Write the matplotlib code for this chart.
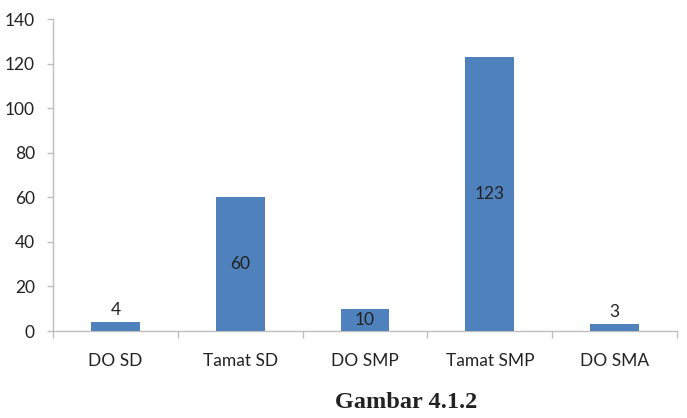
import matplotlib
matplotlib.use("Agg")
import matplotlib.pyplot as plt
import numpy as np

categories = ["DO SD", "Tamat SD", "DO SMP", "Tamat SMP", "DO SMA"]
values = [4, 60, 10, 123, 3]
yticks = [0, 20, 40, 60, 80, 100, 120, 140]
title = "Gambar 4.1.2"

plt.rcParams['font.family'] = ['Lato', 'DejaVu Sans']

fig = plt.figure(figsize=(6.87, 4.18), dpi=100)
ax = fig.add_axes([53/687, 1-331/418, (677-53)/687, (331-19)/418])

x = np.arange(len(categories))
bars = ax.bar(x, values, width=0.39, color='#4F81BD', zorder=3)

ax.set_xlim(-0.5, len(categories) - 0.5)
ax.set_ylim(0, 140)
ax.set_yticks(yticks)
ax.set_yticklabels([str(t) for t in yticks], fontsize=12.5, color='#222222')
ax.tick_params(axis='y', length=4, width=1, color='#BFBFBF', pad=9)

ax.set_xticks(np.arange(len(categories) + 1) - 0.5)
ax.set_xticklabels([])
ax.tick_params(axis='x', which='major', length=5, width=1, color='#BFBFBF', direction='out')
ax.set_xticks(x, minor=True)
ax.set_xticklabels(categories, minor=True, fontsize=12.5, color='#222222')
ax.tick_params(axis='x', which='minor', length=0, pad=16)

for s in ['top', 'right']:
    ax.spines[s].set_visible(False)
for s in ['left', 'bottom']:
    ax.spines[s].set_color('#BFBFBF')
    ax.spines[s].set_linewidth(1)

for xi, v in zip(x, values):
    if v >= 8:
        ax.text(xi, v / 2, str(v), ha='center', va='center', fontsize=12.5, color='#222222', zorder=4)
    else:
        ax.annotate(str(v), (xi, v), xytext=(0, 3), textcoords='offset points',
                    ha='center', va='bottom', fontsize=12.5, color='#222222')

fig.text(406/687, 1-402/418, title, ha='center', va='center', fontsize=17.5,
         fontweight='bold', family=['Liberation Serif', 'DejaVu Serif'], color='#222222')

fig.savefig('out.png', dpi=100)
